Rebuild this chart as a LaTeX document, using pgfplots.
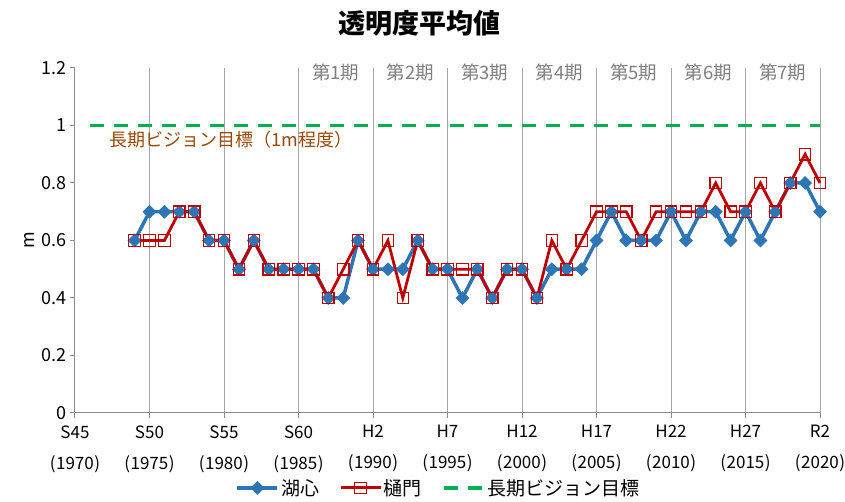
\documentclass[border=0pt]{standalone}
\usepackage{fontspec}
\setmainfont{Noto Sans CJK JP}
\usepackage{pgfplots}
\pgfplotsset{compat=1.18}
\definecolor{cblue}{HTML}{2E75B6}
\definecolor{cred}{HTML}{C00000}
\definecolor{cgreen}{HTML}{00B050}
\definecolor{cbrown}{HTML}{984807}
\definecolor{cgray}{HTML}{7F7F7F}
\definecolor{cgrid}{HTML}{A6A6A6}
\definecolor{caxis}{HTML}{8C8C8C}

\pgfplotstableread{
year kosin himon
1974 0.6 0.6
1975 0.7 0.6
1976 0.7 0.6
1977 0.7 0.7
1978 0.7 0.7
1979 0.6 0.6
1980 0.6 0.6
1981 0.5 0.5
1982 0.6 0.6
1983 0.5 0.5
1984 0.5 0.5
1985 0.5 0.5
1986 0.5 0.5
1987 0.4 0.4
1988 0.4 0.5
1989 0.6 0.6
1990 0.5 0.5
1991 0.5 0.6
1992 0.5 0.4
1993 0.6 0.6
1994 0.5 0.5
1995 0.5 0.5
1996 0.4 0.5
1997 0.5 0.5
1998 0.4 0.4
1999 0.5 0.5
2000 0.5 0.5
2001 0.4 0.4
2002 0.5 0.6
2003 0.5 0.5
2004 0.5 0.6
2005 0.6 0.7
2006 0.7 0.7
2007 0.6 0.7
2008 0.6 0.6
2009 0.6 0.7
2010 0.7 0.7
2011 0.6 0.7
2012 0.7 0.7
2013 0.7 0.8
2014 0.6 0.7
2015 0.7 0.7
2016 0.6 0.8
2017 0.7 0.7
2018 0.8 0.8
2019 0.8 0.9
2020 0.7 0.8
}\datatable

\newcommand{\yr}[1]{(\kern0.6pt#1\kern0.6pt)}

\begin{document}
\begin{tikzpicture}
\useasboundingbox (-75pt,-89pt) rectangle (770pt,413pt);
\begin{axis}[
  at={(0,0)}, anchor=south west,
  width=745pt, height=345pt, scale only axis,
  xmin=1970, xmax=2020, ymin=0, ymax=1.2,
  clip=false,
  axis x line*=bottom, axis y line*=left,
  axis line style={caxis, line width=1pt},
  tick align=outside,
  major tick length=5pt,
  tick style={caxis, line width=1pt},
  xtick={1970,1975,1980,1985,1990,1995,2000,2005,2010,2015,2020},
  xticklabels={{S45\\\yr{1970}},{S50\\\yr{1975}},{S55\\\yr{1980}},{S60\\\yr{1985}},{H2\\\yr{1990}},{H7\\\yr{1995}},{H12\\\yr{2000}},{H17\\\yr{2005}},{H22\\\yr{2010}},{H27\\\yr{2015}},{R2\\\yr{2020}}},
  xticklabel style={align=center, font=\fontsize{17}{31}\selectfont, yshift=-4pt},
  ytick={0,0.2,0.4,0.6,0.8,1,1.2},
  yticklabels={0,0.2,0.4,0.6,0.8,1,1.2},
  yticklabel style={font=\fontsize{18}{20}\selectfont},
  /pgf/number format/assume math mode=true,
  xmajorgrids,
  major grid style={cgrid, line width=1pt},
  ylabel={m},
  ylabel style={font=\fontsize{18}{20}\selectfont},
  title={\textbf{透明度平均値}},
  title style={at={(axis description cs:0.463,1.112)}, anchor=center, font=\fontsize{27}{30}\selectfont},
  legend columns=3,
  legend style={at={(axis description cs:0.488,-0.217)}, anchor=center, draw=none, font=\fontsize{19}{21}\selectfont, column sep=18pt, /tikz/every odd column/.append style={column sep=0pt}},
  legend image code/.code={\draw[#1, mark repeat=2, mark phase=2] plot coordinates {(0pt,0pt) (20pt,0pt) (40pt,0pt)};},
]
\addplot[cblue, line width=3.5pt, mark=square*, mark size=4.6pt, mark options={solid, rotate=45, fill=cblue, line width=0.5pt}] table[x=year, y=kosin] {\datatable};
\addlegendentry{湖心}
\addplot[cred, line width=2.8pt, mark=square, mark size=5.7pt, mark options={solid, line width=1.2pt, fill=none}] table[x=year, y=himon] {\datatable};
\addlegendentry{樋門}
\addplot[cgreen, line width=3.5pt, dash pattern=on 14pt off 10pt] coordinates {(1971,1) (2020,1)};
\addlegendentry{長期ビジョン目標}

\node[cbrown, anchor=west, font=\fontsize{18}{20}\selectfont] at (axis cs:1972.1,0.95) {長期ビジョン目標（1m程度）};
\node[cgray, font=\fontsize{18.5}{20}\selectfont] at (axis cs:1987.5,1.183) {第1期};
\node[cgray, font=\fontsize{18.5}{20}\selectfont] at (axis cs:1992.5,1.183) {第2期};
\node[cgray, font=\fontsize{18.5}{20}\selectfont] at (axis cs:1997.5,1.183) {第3期};
\node[cgray, font=\fontsize{18.5}{20}\selectfont] at (axis cs:2002.5,1.183) {第4期};
\node[cgray, font=\fontsize{18.5}{20}\selectfont] at (axis cs:2007.5,1.183) {第5期};
\node[cgray, font=\fontsize{18.5}{20}\selectfont] at (axis cs:2012.5,1.183) {第6期};
\node[cgray, font=\fontsize{18.5}{20}\selectfont] at (axis cs:2017.5,1.183) {第7期};
\end{axis}
\end{tikzpicture}
\end{document}
